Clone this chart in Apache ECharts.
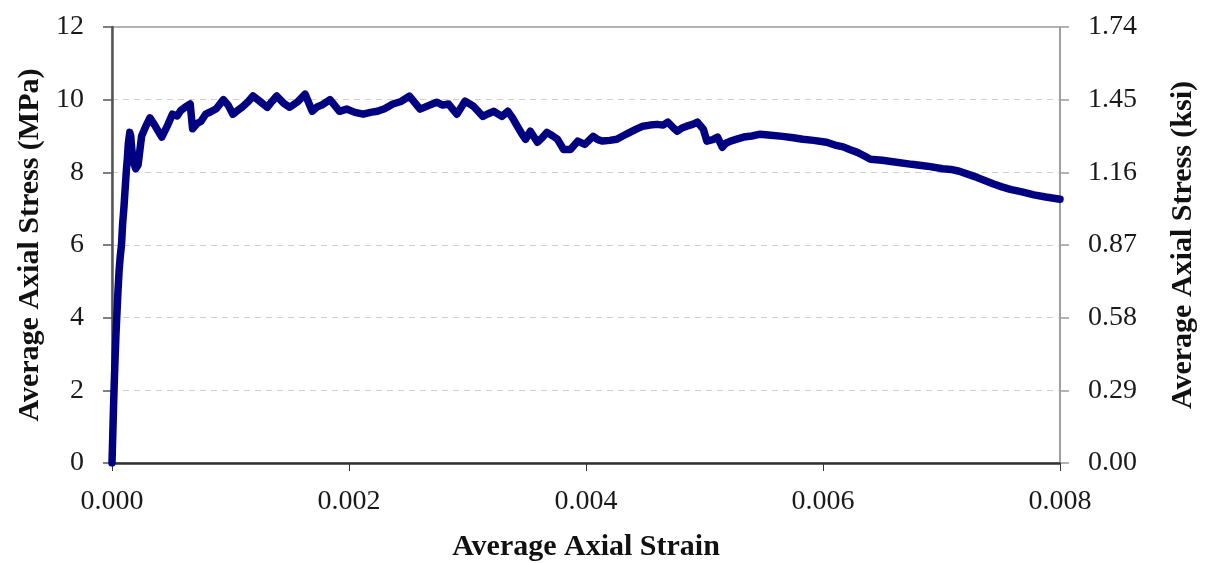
<!DOCTYPE html>
<html><head><meta charset="utf-8">
<script src="https://cdn.jsdelivr.net/npm/echarts@6/dist/echarts.min.js"></script>
<style>html,body{margin:0;padding:0;background:#fff}#c{width:1208px;height:563px}</style>
</head><body><div id="c"></div>
<script>
const strain = [0,0.000005,0.00001,0.000017,0.000025,0.000033,0.00004,0.00005,0.00006,0.00007,0.00008,0.00009,0.0001,0.00011,0.00012,0.00013,0.000138,0.00015,0.000158,0.000168,0.00018,0.00019,0.0002,0.00021,0.00022,0.00025,0.00029,0.00032,0.00036,0.00042,0.00047,0.00051,0.00055,0.00058,0.00062,0.00066,0.00068,0.00072,0.00075,0.00079,0.00083,0.00088,0.00094,0.00098,0.00102,0.00106,0.0011,0.00115,0.00119,0.00125,0.00131,0.00135,0.00139,0.00145,0.0015,0.00157,0.00163,0.00169,0.00173,0.00177,0.00184,0.00192,0.00198,0.00205,0.00212,0.00218,0.00224,0.0023,0.00237,0.00244,0.00251,0.0026,0.00268,0.00274,0.00279,0.00284,0.00291,0.00298,0.00305,0.00313,0.00318,0.00322,0.00329,0.00334,0.00338,0.00342,0.00346,0.00349,0.00353,0.00359,0.00363,0.00367,0.00372,0.00376,0.00381,0.00387,0.00393,0.00399,0.00406,0.0041,0.00414,0.0042,0.00426,0.00431,0.00437,0.00442,0.00448,0.00454,0.0046,0.00465,0.00469,0.00473,0.00477,0.00481,0.00485,0.0049,0.00494,0.00499,0.00502,0.00507,0.00511,0.00515,0.00518,0.00522,0.00528,0.00533,0.0054,0.00547,0.00556,0.00566,0.00575,0.00583,0.00592,0.00603,0.0061,0.00617,0.00623,0.00629,0.00635,0.0064,0.0065,0.00662,0.00675,0.00688,0.00701,0.00708,0.00715,0.00722,0.0073,0.00737,0.00744,0.00751,0.00758,0.00768,0.00778,0.00788,0.008];
const stress = [0,0.6,1.2,2.0,2.8,3.5,4.0,4.7,5.3,5.7,6.0,6.6,7.0,7.5,8.0,8.4,8.8,9.1,9.0,8.6,8.3,8.2,8.1,8.15,8.2,9.0,9.3,9.5,9.3,8.97,9.3,9.6,9.55,9.7,9.8,9.88,9.2,9.35,9.4,9.6,9.66,9.75,10.0,9.85,9.6,9.7,9.8,9.95,10.1,9.95,9.79,9.95,10.1,9.9,9.79,9.95,10.15,9.68,9.8,9.85,10.0,9.68,9.74,9.65,9.6,9.65,9.68,9.75,9.88,9.95,10.1,9.74,9.85,9.93,9.85,9.88,9.6,9.96,9.82,9.54,9.62,9.68,9.54,9.68,9.5,9.27,9.05,8.91,9.13,8.83,8.95,9.1,9.0,8.91,8.63,8.63,8.86,8.77,8.99,8.9,8.86,8.88,8.91,9.0,9.1,9.18,9.27,9.3,9.32,9.3,9.38,9.25,9.13,9.22,9.27,9.32,9.38,9.19,8.86,8.9,8.97,8.69,8.8,8.86,8.92,8.97,9.0,9.05,9.02,8.99,8.95,8.91,8.88,8.83,8.75,8.7,8.62,8.55,8.45,8.36,8.33,8.28,8.22,8.17,8.1,8.08,8.03,7.95,7.86,7.77,7.68,7.6,7.53,7.46,7.38,7.32,7.26];
const leftTicks = [0,2,4,6,8,10,12];
const rightTicks = ['0.00','0.29','0.58','0.87','1.16','1.45','1.74'];
const xTicks = ['0.000','0.002','0.004','0.006','0.008'];

const pts = strain.map((s,i)=>[s,stress[i]]);
const font = '"Liberation Serif","Times New Roman",serif';
const chart = echarts.init(document.getElementById('c'));
chart.setOption({
  animation:false,
  backgroundColor:'#fff',
  grid:{left:112,right:148,top:27,bottom:100,containLabel:false,outerBoundsMode:'none',show:true,borderColor:'#9a9a9a',borderWidth:1.5},
  xAxis:{type:'value',min:0,max:0.008,interval:0.002,
    name:'Average Axial Strain',nameLocation:'middle',nameGap:69,
    nameTextStyle:{fontFamily:font,fontWeight:'bold',fontSize:30,color:'#111'},
    axisLine:{lineStyle:{color:'#333',width:2.5}},
    axisTick:{show:true,length:8,lineStyle:{color:'#333'}},
    axisLabel:{fontFamily:font,fontSize:28,color:'#1a1a1a',margin:25,
      formatter:(v)=>xTicks[Math.round(v/0.002)]},
    splitLine:{show:false}},
  yAxis:[
    {type:'value',min:0,max:12,interval:2,position:'left',
      name:'Average Axial Stress (MPa)',nameLocation:'middle',nameGap:66,
      nameTextStyle:{fontFamily:font,fontWeight:'bold',fontSize:30,color:'#111'},
      axisLine:{show:true,lineStyle:{color:'#555',width:2.5}},
      axisTick:{show:true,length:9,lineStyle:{color:'#555',width:1.5}},
      axisLabel:{fontFamily:font,fontSize:28,color:'#1a1a1a',margin:28,
        formatter:(v)=>String(leftTicks[Math.round(v/2)])},
      splitLine:{show:true,showMaxLine:false,lineStyle:{color:'#cfcfcf',type:[6,5],width:1}}},
    {type:'value',min:0,max:1.74,interval:0.29,position:'right',
      name:'Average Axial Stress (ksi)',nameLocation:'middle',nameGap:108,nameRotate:90,
      nameTextStyle:{fontFamily:font,fontWeight:'bold',fontSize:30,color:'#111'},
      axisLine:{show:true,lineStyle:{color:'#9a9a9a',width:1.5}},
      axisTick:{show:true,length:9,lineStyle:{color:'#9a9a9a',width:1.5}},
      axisLabel:{fontFamily:font,fontSize:28,color:'#1a1a1a',margin:28,
        formatter:(v)=>rightTicks[Math.round(v/0.29)]},
      splitLine:{show:false}}
  ],
  series:[{type:'line',data:pts,yAxisIndex:0,showSymbol:false,symbol:'none',
    lineStyle:{color:'#000080',width:7.5,join:'round',cap:'round'},z:5}]
});
</script></body></html>
